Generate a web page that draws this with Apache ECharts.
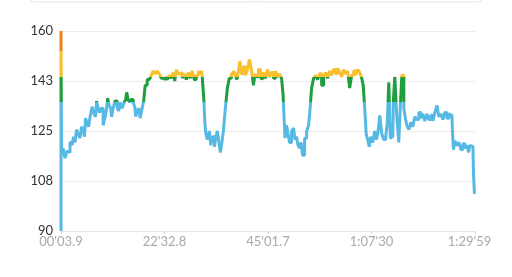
<!DOCTYPE html>
<html>
<head>
<meta charset="utf-8">
<script src="https://cdn.jsdelivr.net/npm/echarts@6/dist/echarts.min.js"></script>
<style>
html,body{margin:0;padding:0;background:#fff;}
#c{width:512px;height:277px;}
</style>
</head>
<body>
<div id="c"></div>
<script>
// elapsed time (seconds) of each heart-rate sample
var times = [4,4,17,43,69,95,108,135,161,174,200,213,239,265,278,304,317,330,357,370,396,422,448,461,474,500,513,540,566,592,605,618,644,657,670,696,722,749,762,788,814,840,853,866,892,905,931,958,971,984,1010,1023,1049,1075,1088,1114,1141,1167,1193,1219,1245,
1271,1297,1323,1350,1376,1402,1428,1454,1480,1493,1519,1545,1572,1598,1624,1650,1676,1702,1728,1754,1781,1807,1833,1846,
1859,1872,1885,1898,1924,1950,1963,1990,2016,2029,2055,2068,2094,2107,2133,2159,2185,2211,2238,
2264,2290,2303,2329,2342,2368,2395,2421,2447,2473,2499,2525,2538,2564,2591,2617,2630,2656,2682,2708,2734,2760,2787,2813,2839,2865,2891,
2904,2917,2930,2956,2969,2996,3022,3048,3061,3087,3100,3126,3139,3165,3192,3218,3244,3257,3283,3309,
3335,3361,3387,3414,3440,3466,3492,3518,3544,3570,3597,3623,3649,3675,3701,3727,3753,3779,3805,3832,3858,3884,3910,3936,3949,
3975,3988,4014,4028,4054,4080,4106,4119,4145,4171,4197,4223,4250,4263,4289,4302,4328,4341,4367,4393,4419,4432,4459,4485,4498,
4524,4550,4576,4602,4628,4654,4681,4707,4733,4759,4785,4811,4838,4864,4890,4916,4942,4968,4994,5020,5047,5073,5099,5112,
5125,5151,5177,5203,5229,5256,5282,5308,5321,5347,5373,5386,5399];
// heart rate (bpm)
var heartRate = [90,160,117.5,119,115.5,118,117.5,121,120,123,121,125.5,124,122.5,126.5,125.5,123,129.5,128,126.5,130,133.5,131,130,135.5,133,131.5,133,127,130,133,136.5,134,133,130,133,135.5,133,132,135,133,135,136,138.5,136,135,136,135,133.5,130,132,133,129.5,133,135.5,141,143,143.5,144.5,146,145,
146,145,143.5,143,144,143,144.5,143.5,145.5,142.5,146.5,145,145.5,143.5,145,143,145.5,143.5,146,143,144.5,146,145,146,
141,136,128,124,122,125,120,123,119.5,123,125,121,117.5,121,125,133,140,143.5,145,
146,144.5,143,146,149.5,145,147.5,144.5,146.5,150,146.5,141,145,144,146.5,144,143,145.5,143.5,146.5,144,145.5,143.5,146,144,145,143.5,
138,130,122.5,127,124,121,125,126,122,123,120,119,121,116.5,122.5,125,127,133,140,143.5,
144.5,143,145,141,144,145.5,143.5,146,144.5,146.5,145,147,145.5,144,146.5,145,146,140,144.5,146,144.5,146.5,145.5,143.5,141,
133,124,122,119.5,123,121,125,122,124,130.5,124,122,123,128,142,122.5,123,135,144,130,121,133,144.5,133,129.5,
127,125.5,128,126.5,130,129,131.5,129.5,131,128.5,131,129,130.5,128.5,131.5,134,130,131,129,131.5,129.5,131,130.5,125,
118.5,121.5,120,121,118.5,120.5,119,120,117.5,120,119.5,110,103];
var xTickLabels = ["00'03.9", "22'32.8", "45'01.7", "1:07'30", "1:29'59"];
var yTickLabels = ["90", "108", "125", "143", "160"];

var data = times.map(function (t, i) { return [t, heartRate[i]]; });

var chart = echarts.init(document.getElementById('c'), null, {renderer: 'canvas'});
chart.setOption({
  animation: false,
  backgroundColor: '#fff',
  graphic: [
    {type: 'rect', shape: {x: 27, y: -40, width: 458, height: 42, r: 9}, style: {fill: 'none', stroke: '#e3e3e3', lineWidth: 1}},
    {type: 'line', shape: {x1: 256, y1: -5, x2: 256, y2: 2}, style: {stroke: '#e3e3e3', lineWidth: 1}}
  ],
  grid: {left: 61, right: 37, top: 31, bottom: 46},
  xAxis: {
    type: 'value', min: 3.9, max: 5399.5, interval: 1348.9,
    axisLine: {show: true, lineStyle: {color: '#e6e6e6'}},
    axisTick: {show: true, length: 3, lineStyle: {color: '#cfcfcf'}},
    splitLine: {show: false},
    axisLabel: {
      color: '#a9a9a9', fontSize: 13, fontFamily: 'Lato', margin: 4,
      formatter: function (v, i) {
        if (i === xTickLabels.length - 1) return '{last|' + xTickLabels[i] + '}';
        return xTickLabels[i];
      },
      rich: {last: {color: '#a9a9a9', fontSize: 13, fontFamily: 'Lato', padding: [0, 11, 0, 0]}}
    }
  },
  yAxis: {
    type: 'value', min: 90, max: 160, interval: 17.5,
    axisLine: {show: false}, axisTick: {show: false},
    splitLine: {lineStyle: {color: '#ececec', width: 1}},
    axisLabel: {
      color: '#333', fontSize: 13, fontFamily: 'Lato', margin: 8,
      formatter: function (v, i) { return yTickLabels[i]; }
    }
  },
  visualMap: {
    show: false, type: 'piecewise', dimension: 1, seriesIndex: 0,
    pieces: [
      {lt: 135, color: '#56b9e3'},
      {gte: 135, lt: 144, color: '#1e9e3e'},
      {gte: 144, lt: 153, color: '#f9bf2f'},
      {gte: 153, color: '#ef801f'}
    ]
  },
  series: [{
    type: 'line', data: data, symbol: 'none', step: 'middle',
    lineStyle: {width: 3}
  }]
});
</script>
</body>
</html>
